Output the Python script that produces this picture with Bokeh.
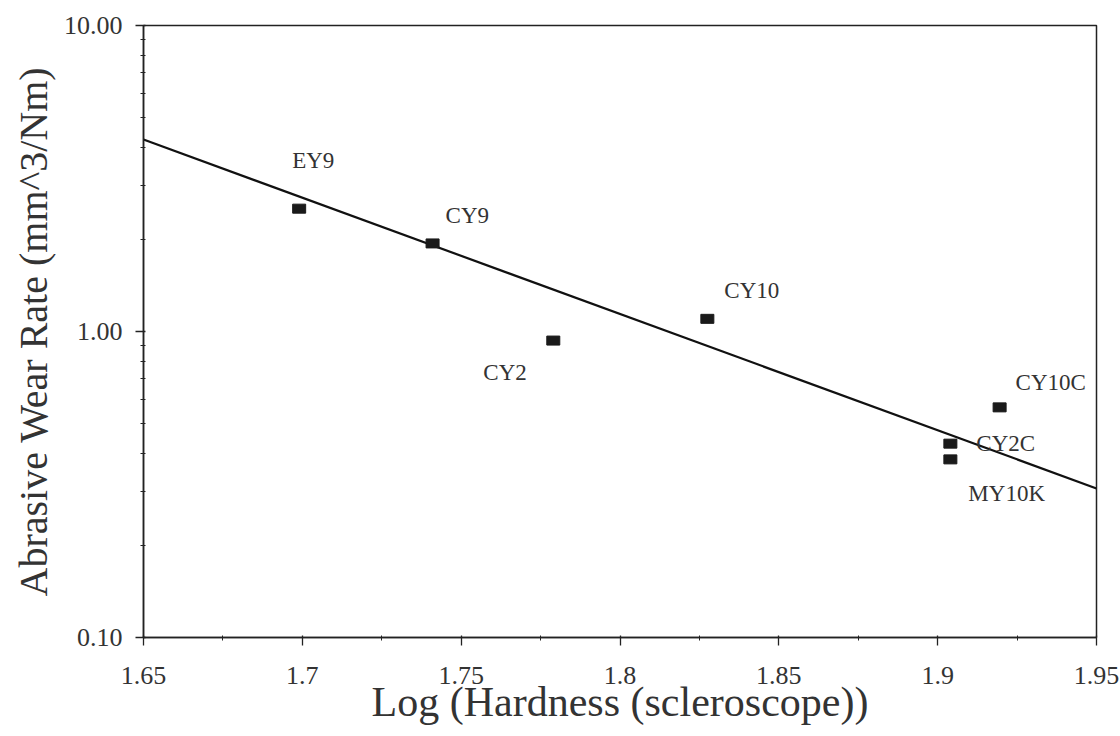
from bokeh.plotting import figure
from bokeh.models import ColumnDataSource, FixedTicker, CustomJSTickFormatter
from bokeh.core.properties import value
from bokeh.embed import file_html
from bokeh.resources import INLINE

# ---- data ----
samples = ["EY9", "CY9", "CY2", "CY10", "CY10C", "CY2C", "MY10K"]
log_hardness = [1.699, 1.741, 1.779, 1.8275, 1.9195, 1.904, 1.904]
wear_rate = [2.52, 1.94, 0.934, 1.10, 0.565, 0.43, 0.382]

fit_x = [1.65, 1.95]
fit_y = [4.24, 0.307]

x_ticks = [1.65, 1.7, 1.75, 1.8, 1.85, 1.9, 1.95]
x_tick_labels = ["1.65", "1.7", "1.75", "1.8", "1.85", "1.9", "1.95"]
x_minor = [1.675, 1.725, 1.775, 1.825, 1.875, 1.925]
y_ticks = [0.1, 1.0, 10.0]
y_tick_labels = ["0.10", "1.00", "10.00"]
y_minor = [0.2, 0.3, 0.4, 0.5, 0.6, 0.7, 0.8, 0.9,
           2, 3, 4, 5, 6, 7, 8, 9]

# label placement (screen offsets, px)
label_dx = [-7, 13, -70, 17, 16, 26, 18]
label_dy = [-48, -28, 32, -28, -25, 0, 34]

FONT = "Liberation Serif"
INK = "#222222"
TXT = "#333333"

LOOKUP = """
let best = 0, d = Infinity;
for (let i = 0; i < tvals.length; i++) {
  const e = Math.abs(tvals[i] - tick);
  if (e < d) { d = e; best = i; }
}
return tlabels[best];
"""

p = figure(width=1120, height=736, output_backend="svg", toolbar_location=None,
           y_axis_type="log", x_range=(1.65, 1.95), y_range=(0.1, 10.0),
           min_border_left=143, min_border_right=24, min_border_top=25,
           min_border_bottom=99)
p.grid.visible = False
p.background_fill_color = "white"
p.border_fill_color = "white"
p.outline_line_color = INK
p.outline_line_width = 1.5

# fit line
p.line(fit_x, fit_y, line_color="#111111", line_width=2.2)

src = ColumnDataSource(dict(x=log_hardness, y=wear_rate, name=samples,
                            dx=label_dx, dy=label_dy))
p.rect(x="x", y="y", width=13, height=9, width_units="screen", height_units="screen",
       source=src, fill_color="#1a1a1a", line_color="#1a1a1a")
p.text(x="x", y="y", text="name", x_offset="dx", y_offset="dy", source=src,
       text_font=value(FONT), text_font_size="23px", text_color=TXT,
       text_align="left", text_baseline="middle")

# x axis
xa = p.xaxis[0]
xa.ticker = FixedTicker(ticks=x_ticks, minor_ticks=x_minor)
xa.formatter = CustomJSTickFormatter(args=dict(tvals=x_ticks, tlabels=x_tick_labels), code=LOOKUP)
xa.axis_label = "Log (Hardness (scleroscope))"

# y axis
ya = p.yaxis[0]
ya.ticker = FixedTicker(ticks=y_ticks, minor_ticks=y_minor)
ya.formatter = CustomJSTickFormatter(args=dict(tvals=y_ticks, tlabels=y_tick_labels), code=LOOKUP)
ya.axis_label = "Abrasive Wear Rate (mm^3/Nm)"

for ax in (xa, ya):
    ax.axis_line_color = INK
    ax.axis_line_width = 1.5
    ax.major_tick_line_color = INK
    ax.minor_tick_line_color = INK
    ax.major_tick_line_width = 1.3
    ax.minor_tick_line_width = 1.0
    ax.major_tick_out = 8
    ax.major_tick_in = 2
    ax.minor_tick_out = 3
    ax.minor_tick_in = 2
    ax.major_label_text_font = FONT
    ax.major_label_text_font_size = "26px"
    ax.major_label_text_color = TXT
    ax.axis_label_text_font = FONT
    ax.axis_label_text_font_style = "normal"
    ax.axis_label_text_color = TXT

xa.axis_label_text_font_size = "42px"
ya.axis_label_text_font_size = "40px"
xa.major_label_standoff = 21
xa.axis_label_standoff = -8
ya.major_label_standoff = 13
ya.axis_label_standoff = 5

open("out.html", "w").write(file_html(p, INLINE))
